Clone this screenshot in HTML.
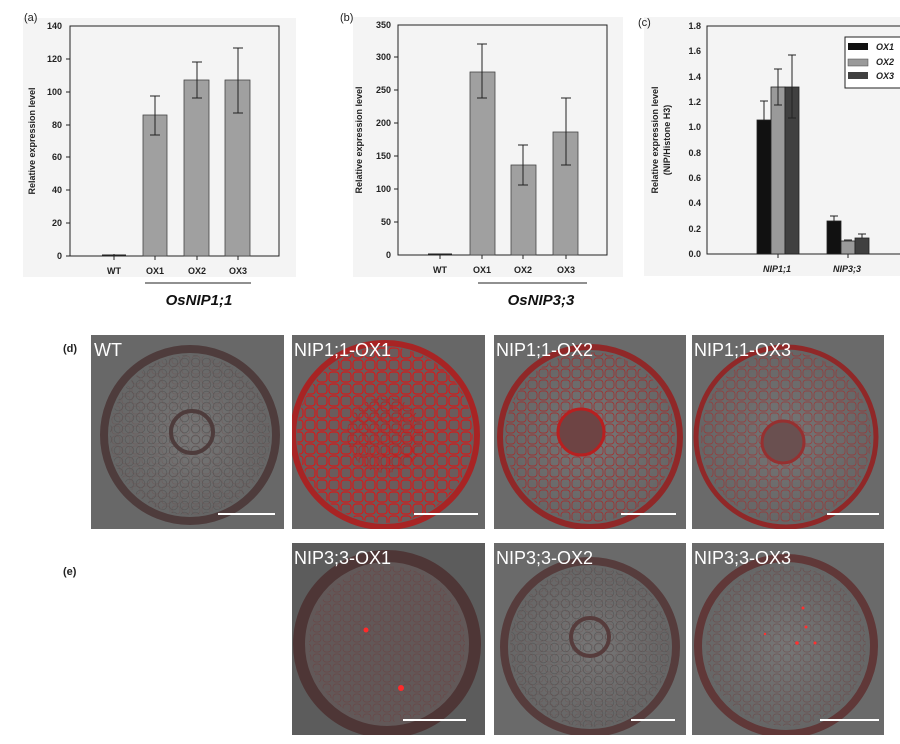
<!DOCTYPE html>
<html><head><meta charset="utf-8"><style>
html,body{margin:0;padding:0;background:#fff;}
svg{display:block;font-family:"Liberation Sans",Arial,sans-serif;}
.t{font-size:9px;font-weight:bold;fill:#222;}
.lab{font-size:18px;fill:#fff;}
</style></head><body>
<svg width="900" height="744" viewBox="0 0 900 744" xmlns="http://www.w3.org/2000/svg">
<defs>
<pattern id="cells" width="11" height="11" patternUnits="userSpaceOnUse">
<circle cx="5.5" cy="5.5" r="4.3" fill="none" stroke="#575757" stroke-width="0.9"/>
</pattern>
<pattern id="rcells" width="12" height="12" patternUnits="userSpaceOnUse">
<rect x="1" y="1" width="10" height="10" rx="3" fill="none" stroke="#d41a1a" stroke-width="1.2"/>
</pattern>
<pattern id="rcellsM" width="11" height="11" patternUnits="userSpaceOnUse">
<rect x="1" y="1" width="9" height="9" rx="3" fill="none" stroke="#a82828" stroke-width="0.9"/>
</pattern>
<pattern id="rcellsD" width="10" height="10" patternUnits="userSpaceOnUse">
<rect x="1" y="1" width="8" height="8" rx="3" fill="none" stroke="#6e3a3a" stroke-width="0.7"/>
</pattern>
<radialGradient id="bg" cx="0.5" cy="0.5" r="0.6">
<stop offset="0" stop-color="#767676"/><stop offset="1" stop-color="#626262"/>
</radialGradient>
</defs>

<!-- chart a -->
<rect x="23" y="18" width="273" height="259" fill="#f4f4f4"/>
<text x="24" y="21" font-size="11" fill="#222">(a)</text>
<rect x="70" y="26" width="209" height="230" fill="none" stroke="#222" stroke-width="1"/>
<g class="t" text-anchor="end">
<text x="62" y="259">0</text><text x="62" y="226">20</text><text x="62" y="193">40</text><text x="62" y="160">60</text><text x="62" y="128">80</text><text x="62" y="95">100</text><text x="62" y="62">120</text><text x="62" y="29">140</text>
</g>
<g stroke="#222"><line x1="66" y1="256" x2="70" y2="256"/><line x1="66" y1="223" x2="70" y2="223"/><line x1="66" y1="190" x2="70" y2="190"/><line x1="66" y1="157" x2="70" y2="157"/><line x1="66" y1="125" x2="70" y2="125"/><line x1="66" y1="92" x2="70" y2="92"/><line x1="66" y1="59" x2="70" y2="59"/></g>
<text class="t" transform="translate(35,141) rotate(-90)" text-anchor="middle" font-size="10">Relative expression level</text>
<g fill="#a0a0a0" stroke="#444" stroke-width="0.8">
<rect x="143" y="115" width="24" height="141"/><rect x="184" y="80" width="25" height="176"/><rect x="225" y="80" width="25" height="176"/>
</g>
<g stroke="#222" stroke-width="1">
<line x1="102" y1="255" x2="126" y2="255"/><line x1="114" y1="254" x2="114" y2="256"/>
<line x1="155" y1="96" x2="155" y2="135"/><line x1="150" y1="96" x2="160" y2="96"/><line x1="150" y1="135" x2="160" y2="135"/>
<line x1="197" y1="62" x2="197" y2="98"/><line x1="192" y1="62" x2="202" y2="62"/><line x1="192" y1="98" x2="202" y2="98"/>
<line x1="238" y1="48" x2="238" y2="113"/><line x1="233" y1="48" x2="243" y2="48"/><line x1="233" y1="113" x2="243" y2="113"/>
<line x1="114" y1="256" x2="114" y2="260"/><line x1="155" y1="256" x2="155" y2="260"/><line x1="197" y1="256" x2="197" y2="260"/><line x1="238" y1="256" x2="238" y2="260"/>
<line x1="145" y1="283" x2="251" y2="283"/>
</g>
<g class="t" text-anchor="middle"><text x="114" y="274">WT</text><text x="155" y="274">OX1</text><text x="197" y="274">OX2</text><text x="238" y="274">OX3</text></g>
<text x="199" y="305" font-size="15" font-weight="bold" font-style="italic" text-anchor="middle" fill="#111">OsNIP1;1</text>

<!-- chart b -->
<rect x="353" y="17" width="270" height="260" fill="#f4f4f4"/>
<text x="340" y="21" font-size="11" fill="#222">(b)</text>
<rect x="398" y="25" width="209" height="230" fill="none" stroke="#222"/>
<g class="t" text-anchor="end">
<text x="391" y="258">0</text><text x="391" y="225">50</text><text x="391" y="192">100</text><text x="391" y="159">150</text><text x="391" y="126">200</text><text x="391" y="93">250</text><text x="391" y="60">300</text><text x="391" y="28">350</text>
</g>
<g stroke="#222"><line x1="394" y1="222" x2="398" y2="222"/><line x1="394" y1="189" x2="398" y2="189"/><line x1="394" y1="156" x2="398" y2="156"/><line x1="394" y1="123" x2="398" y2="123"/><line x1="394" y1="90" x2="398" y2="90"/><line x1="394" y1="57" x2="398" y2="57"/></g>
<text class="t" transform="translate(362,140) rotate(-90)" text-anchor="middle" font-size="10">Relative expression level</text>
<g fill="#a0a0a0" stroke="#444" stroke-width="0.8">
<rect x="470" y="72" width="25" height="183"/><rect x="511" y="165" width="25" height="90"/><rect x="553" y="132" width="25" height="123"/>
</g>
<g stroke="#222">
<line x1="428" y1="254" x2="452" y2="254"/>
<line x1="482" y1="44" x2="482" y2="98"/><line x1="477" y1="44" x2="487" y2="44"/><line x1="477" y1="98" x2="487" y2="98"/>
<line x1="523" y1="145" x2="523" y2="185"/><line x1="518" y1="145" x2="528" y2="145"/><line x1="518" y1="185" x2="528" y2="185"/>
<line x1="566" y1="98" x2="566" y2="165"/><line x1="561" y1="98" x2="571" y2="98"/><line x1="561" y1="165" x2="571" y2="165"/>
<line x1="440" y1="255" x2="440" y2="259"/><line x1="482" y1="255" x2="482" y2="259"/><line x1="523" y1="255" x2="523" y2="259"/><line x1="566" y1="255" x2="566" y2="259"/>
<line x1="478" y1="283" x2="587" y2="283"/>
</g>
<g class="t" text-anchor="middle"><text x="440" y="273">WT</text><text x="482" y="273">OX1</text><text x="523" y="273">OX2</text><text x="566" y="273">OX3</text></g>
<text x="541" y="305" font-size="15" font-weight="bold" font-style="italic" text-anchor="middle" fill="#111">OsNIP3;3</text>

<!-- chart c -->
<rect x="644" y="17" width="256" height="259" fill="#f4f4f4"/>
<text x="638" y="26" font-size="11" fill="#222">(c)</text>
<rect x="707" y="26" width="200" height="228" fill="none" stroke="#222"/>
<g class="t" text-anchor="end">
<text x="701" y="257">0.0</text><text x="701" y="232">0.2</text><text x="701" y="206">0.4</text><text x="701" y="181">0.6</text><text x="701" y="156">0.8</text><text x="701" y="130">1.0</text><text x="701" y="105">1.2</text><text x="701" y="80">1.4</text><text x="701" y="54">1.6</text><text x="701" y="29">1.8</text>
</g>
<text class="t" transform="translate(658,140) rotate(-90)" text-anchor="middle" font-size="10">Relative expression level</text>
<text class="t" transform="translate(670,140) rotate(-90)" text-anchor="middle" font-size="10">(NIP/Histone H3)</text>
<g stroke="#222" stroke-width="0.8">
<rect x="757" y="120" width="14" height="134" fill="#111"/><rect x="771" y="87" width="14" height="167" fill="#9a9a9a"/><rect x="785" y="87" width="14" height="167" fill="#404040"/>
<rect x="827" y="221" width="14" height="33" fill="#111"/><rect x="841" y="241" width="14" height="13" fill="#9a9a9a"/><rect x="855" y="238" width="14" height="16" fill="#404040"/>
</g>
<g stroke="#222">
<line x1="764" y1="101" x2="764" y2="120"/><line x1="760" y1="101" x2="768" y2="101"/>
<line x1="778" y1="69" x2="778" y2="105"/><line x1="774" y1="69" x2="782" y2="69"/><line x1="774" y1="105" x2="782" y2="105"/>
<line x1="792" y1="55" x2="792" y2="118"/><line x1="788" y1="55" x2="796" y2="55"/><line x1="788" y1="118" x2="796" y2="118"/>
<line x1="834" y1="216" x2="834" y2="221"/><line x1="830" y1="216" x2="838" y2="216"/>
<line x1="844" y1="240" x2="852" y2="240"/>
<line x1="862" y1="234" x2="862" y2="238"/><line x1="858" y1="234" x2="866" y2="234"/>
<line x1="778" y1="254" x2="778" y2="258"/><line x1="848" y1="254" x2="848" y2="258"/>
</g>
<g class="t" font-style="italic" text-anchor="middle"><text x="777" y="272">NIP1;1</text><text x="847" y="272">NIP3;3</text></g>
<rect x="845" y="37" width="60" height="51" fill="#fff" stroke="#222"/>
<rect x="848" y="43" width="20" height="7" fill="#111"/><rect x="848" y="59" width="20" height="7" fill="#9a9a9a" stroke="#444" stroke-width="0.5"/><rect x="848" y="72" width="20" height="7" fill="#404040"/>
<g class="t" font-style="italic"><text x="876" y="50">OX1</text><text x="876" y="65">OX2</text><text x="876" y="79">OX3</text></g>

<!-- microscopy -->
<text x="63" y="352" font-size="11" font-weight="bold" fill="#222">(d)</text>
<text x="63" y="575" font-size="11" font-weight="bold" fill="#222">(e)</text>

<!-- WT -->
<svg x="91" y="335" width="193" height="194">
<rect width="193" height="194" fill="#686868"/>
<circle cx="99" cy="100" r="86" fill="url(#bg)" stroke="#4e3c3c" stroke-width="8"/>
<circle cx="99" cy="100" r="80" fill="url(#cells)" opacity="0.8"/>
<circle cx="99" cy="100" r="80" fill="url(#rcellsD)" opacity="0.3"/>
<circle cx="101" cy="97" r="21" fill="none" stroke="#4e3c3c" stroke-width="4"/>
<line x1="127" y1="179" x2="184" y2="179" stroke="#fff" stroke-width="2"/>
<text class="lab" x="3" y="21">WT</text>
</svg>

<!-- NIP1;1 OX1 -->
<svg x="292" y="335" width="193" height="194">
<rect width="193" height="194" fill="#676767"/>
<circle cx="93" cy="100" r="92" fill="#6a5c5c" stroke="#a82424" stroke-width="6"/>
<circle cx="93" cy="100" r="88" fill="url(#rcells)"/>
<circle cx="93" cy="100" r="38" fill="url(#rcellsM)"/>
<line x1="122" y1="179" x2="186" y2="179" stroke="#fff" stroke-width="2"/>
<text class="lab" x="2" y="21">NIP1;1-OX1</text>
</svg>

<!-- NIP1;1 OX2 -->
<svg x="494" y="335" width="192" height="194">
<rect width="192" height="194" fill="#6a6a6a"/>
<circle cx="96" cy="102" r="90" fill="url(#bg)" stroke="#902828" stroke-width="6"/>
<circle cx="96" cy="102" r="85" fill="url(#rcellsM)" opacity="0.8"/>
<circle cx="87" cy="97" r="23" fill="#6e4444" stroke="#b82020" stroke-width="3"/>
<line x1="127" y1="179" x2="182" y2="179" stroke="#fff" stroke-width="2"/>
<text class="lab" x="2" y="21">NIP1;1-OX2</text>
</svg>

<!-- NIP1;1 OX3 -->
<svg x="692" y="335" width="192" height="194">
<rect width="192" height="194" fill="#6a6a6a"/>
<circle cx="94" cy="102" r="90" fill="url(#bg)" stroke="#902828" stroke-width="5"/>
<circle cx="94" cy="102" r="85" fill="url(#rcellsM)" opacity="0.6"/>
<circle cx="91" cy="107" r="21" fill="#6a5050" stroke="#963030" stroke-width="3"/>
<line x1="135" y1="179" x2="187" y2="179" stroke="#fff" stroke-width="2"/>
<text class="lab" x="2" y="21">NIP1;1-OX3</text>
</svg>

<!-- NIP3;3 OX1 -->
<svg x="292" y="543" width="193" height="192">
<rect width="193" height="192" fill="#5c5c5c"/>
<circle cx="95" cy="101" r="88" fill="#625858" stroke="#4e3636" stroke-width="12"/>
<circle cx="95" cy="101" r="78" fill="url(#rcellsD)" opacity="0.6"/>
<circle cx="74" cy="87" r="2.5" fill="#ff2a2a"/><circle cx="109" cy="145" r="3" fill="#ff2a2a"/>
<line x1="111" y1="177" x2="174" y2="177" stroke="#fff" stroke-width="2"/>
<text class="lab" x="2" y="21">NIP3;3-OX1</text>
</svg>

<!-- NIP3;3 OX2 -->
<svg x="494" y="543" width="192" height="192">
<rect width="192" height="192" fill="#6a6a6a"/>
<circle cx="96" cy="104" r="86" fill="url(#bg)" stroke="#563c3c" stroke-width="8"/>
<circle cx="96" cy="104" r="80" fill="url(#cells)" opacity="0.8"/>
<circle cx="96" cy="104" r="80" fill="url(#rcellsD)" opacity="0.3"/>
<circle cx="96" cy="94" r="19" fill="none" stroke="#563c3c" stroke-width="4"/>
<line x1="137" y1="177" x2="181" y2="177" stroke="#fff" stroke-width="2"/>
<text class="lab" x="2" y="21">NIP3;3-OX2</text>
</svg>

<!-- NIP3;3 OX3 -->
<svg x="692" y="543" width="192" height="192">
<rect width="192" height="192" fill="#6a6a6a"/>
<circle cx="94" cy="103" r="88" fill="url(#bg)" stroke="#603838" stroke-width="8"/>
<circle cx="94" cy="103" r="80" fill="url(#rcellsD)" opacity="0.55"/>
<circle cx="105" cy="100" r="1.8" fill="#ff3030"/><circle cx="114" cy="84" r="1.5" fill="#ff3030"/><circle cx="123" cy="100" r="1.5" fill="#ff3030"/><circle cx="111" cy="65" r="1.5" fill="#ff3030"/><circle cx="73" cy="91" r="1.2" fill="#ff3030"/>
<line x1="128" y1="177" x2="187" y2="177" stroke="#fff" stroke-width="2"/>
<text class="lab" x="2" y="21">NIP3;3-OX3</text>
</svg>
</svg>
</body></html>
